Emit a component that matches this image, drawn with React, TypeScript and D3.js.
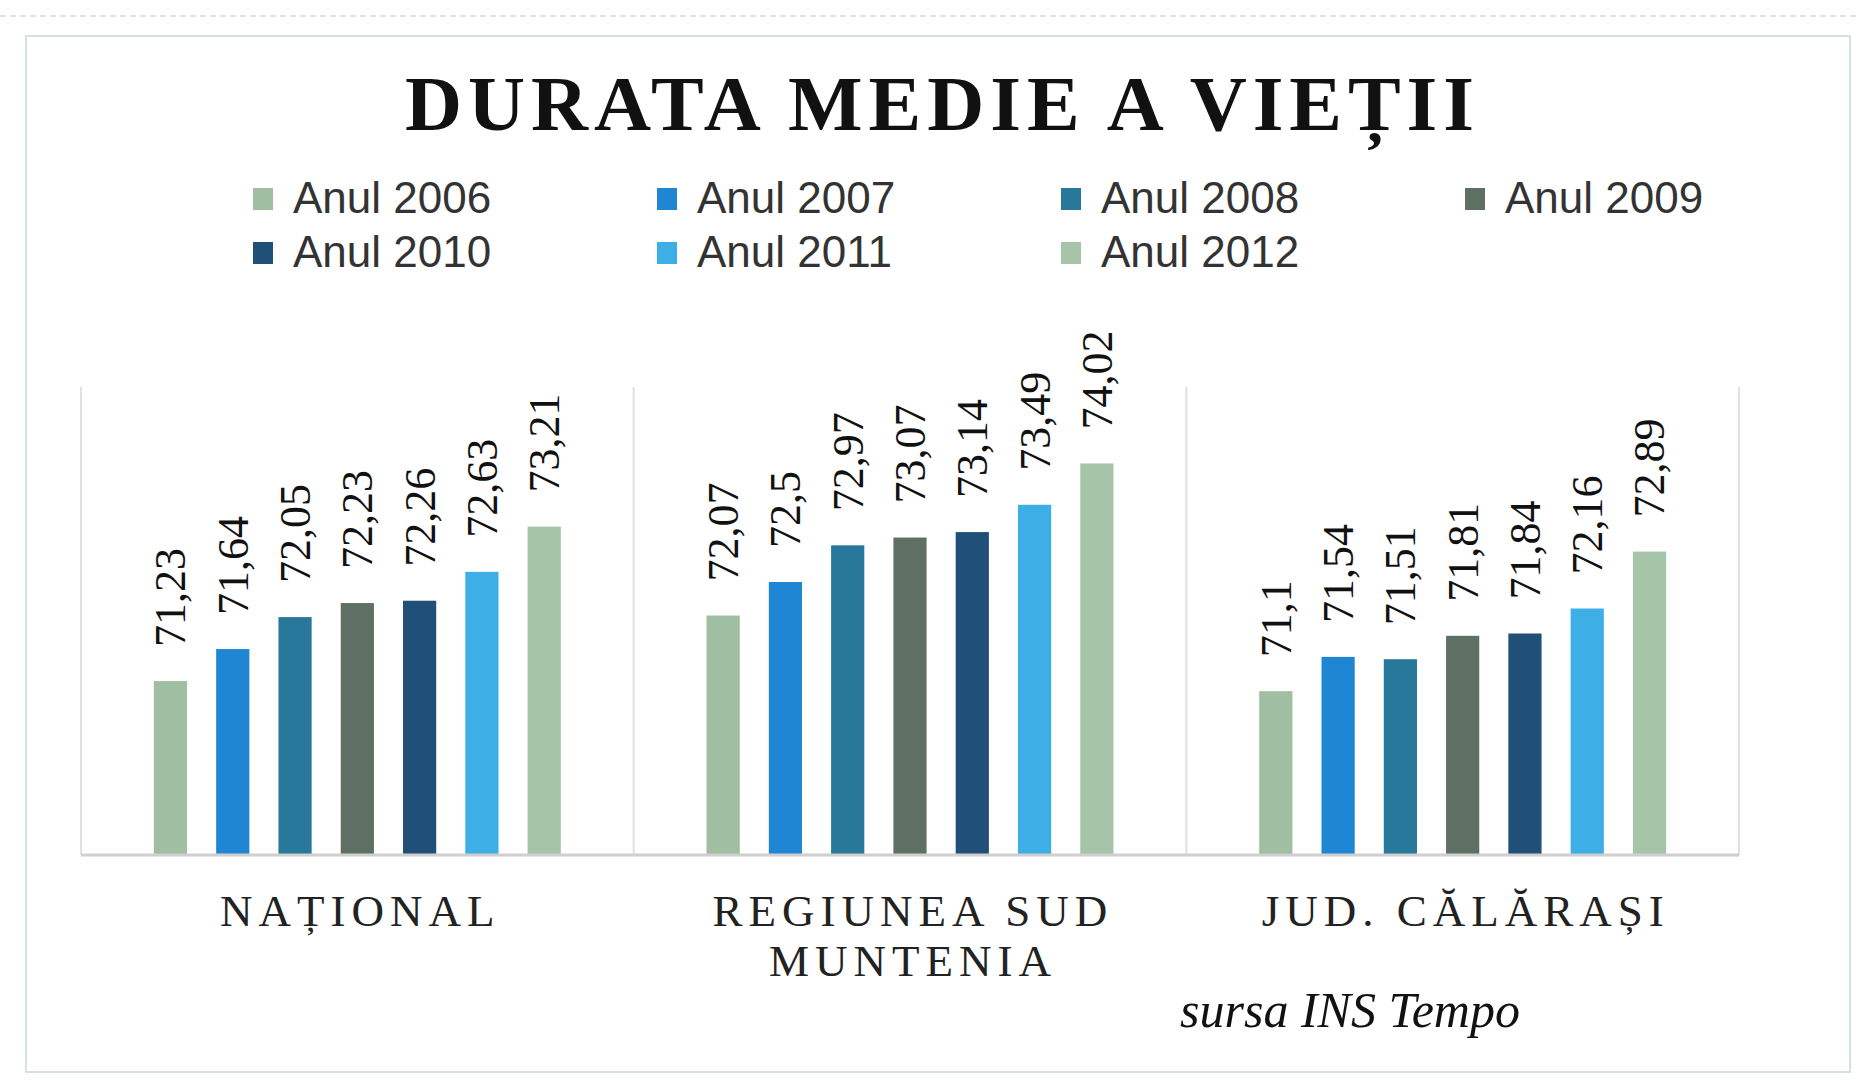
import React from "react";
import * as d3 from "d3";

const categories: string[][] = [["NAȚIONAL"], ["REGIUNEA SUD", "MUNTENIA"], ["JUD. CĂLĂRAȘI"]];
const categoryKeys = ["national", "sud", "calarasi"];
const years = ["Anul 2006", "Anul 2007", "Anul 2008", "Anul 2009", "Anul 2010", "Anul 2011", "Anul 2012"];
const colors = ["#a0bea2", "#1f86d3", "#27789b", "#5e7064", "#204f78", "#3eaee6", "#a6c4a8"];
const national = [71.23, 71.64, 72.05, 72.23, 72.26, 72.63, 73.21];
const sudMuntenia = [72.07, 72.5, 72.97, 73.07, 73.14, 73.49, 74.02];
const calarasi = [71.1, 71.54, 71.51, 71.81, 71.84, 72.16, 72.89];
const seriesByCategory = [national, sudMuntenia, calarasi];
const yDomain = [69, 75];

const W = 1860;
const H = 1080;

const fmt = (v: number) => String(v).replace(".", ",");

export default function App() {
  const x0 = d3.scaleBand<string>().domain(categoryKeys).range([81, 1739]).paddingInner(0).paddingOuter(0);
  const x1 = d3
    .scaleBand<string>()
    .domain(years)
    .range([0, x0.bandwidth()])
    .paddingInner(0.467)
    .paddingOuter(1.17);
  const y = d3.scaleLinear().domain(yDomain).range([855, 387]);
  const serif = "'Liberation Serif', 'Times New Roman', serif";
  const sans = "'Liberation Sans', Arial, sans-serif";
  const catSpacing = 6;

  return (
    <svg
      width={W}
      height={H}
      viewBox={`0 0 ${W} ${H}`}
      style={{ position: "absolute", left: 0, top: 0, display: "block", background: "#ffffff" }}
    >
      <rect x={0} y={0} width={W} height={H} fill="#ffffff" />
      <line x1={0} x2={W} y1={16} y2={16} stroke="#d6e6ec" strokeWidth={2} strokeDasharray="6 4" />
      <rect x={26} y={36} width={1824} height={1036} fill="none" stroke="#d3e0e5" strokeWidth={2} />

      {/* Title */}
      <text
        x={405}
        y={130}
        fontFamily={serif}
        fontWeight="bold"
        fontSize={79}
        fill="#111"
        textLength={1069}
        lengthAdjust="spacing"
      >
        DURATA MEDIE A VIEȚII
      </text>

      {/* Legend */}
      {years.map((yr, i) => {
        const col = i % 4;
        const row = Math.floor(i / 4);
        const sx = 253 + col * 404;
        const base = 213 + row * 54;
        return (
          <g key={yr}>
            <rect x={sx} y={base - 25} width={20} height={22} fill={colors[i]} />
            <text x={sx + 40} y={base} fontFamily={sans} fontSize={44} fill="#333">
              {yr}
            </text>
          </g>
        );
      })}

      {/* Gridlines */}
      {[...categoryKeys.map((k) => x0(k) as number), 1739].map((gx, i) => (
        <line key={i} x1={gx} x2={gx} y1={y(yDomain[1])} y2={y(yDomain[0])} stroke="#e0e0e0" strokeWidth={2} />
      ))}

      {/* Bars */}
      {categoryKeys.map((k, ci) => (
        <g key={k} transform={`translate(${x0(k)},0)`}>
          {seriesByCategory[ci].map((v, si) => {
            const bx = x1(years[si]) as number;
            const bw = x1.bandwidth();
            const top = y(v);
            return (
              <g key={si}>
                <rect x={bx} y={top} width={bw} height={y(yDomain[0]) - top} fill={colors[si]} />
                <text
                  transform={`translate(${bx + bw / 2},${top - 34}) rotate(-90)`}
                  dy="0.34em"
                  fontFamily={serif}
                  fontSize={44}
                  fill="#111"
                >
                  {fmt(v)}
                </text>
              </g>
            );
          })}
        </g>
      ))}

      {/* Baseline */}
      <line x1={81} x2={1739} y1={y(yDomain[0])} y2={y(yDomain[0])} stroke="#cfcfcf" strokeWidth={3} />

      {/* Category labels */}
      {categoryKeys.map((k, ci) => {
        const cx = (x0(k) as number) + x0.bandwidth() / 2 + catSpacing / 2;
        return (
          <text
            key={k}
            x={cx}
            y={926}
            textAnchor="middle"
            fontFamily={serif}
            fontSize={45}
            letterSpacing={catSpacing}
            fill="#222"
          >
            {categories[ci].map((line, li) => (
              <tspan key={li} x={cx} dy={li === 0 ? 0 : 50}>
                {line}
              </tspan>
            ))}
          </text>
        );
      })}

      {/* Source */}
      <text
        x={1180}
        y={1027}
        fontFamily={serif}
        fontStyle="italic"
        fontSize={50}
        fill="#111"
        textLength={340}
        lengthAdjust="spacingAndGlyphs"
      >
        sursa INS Tempo
      </text>
    </svg>
  );
}
